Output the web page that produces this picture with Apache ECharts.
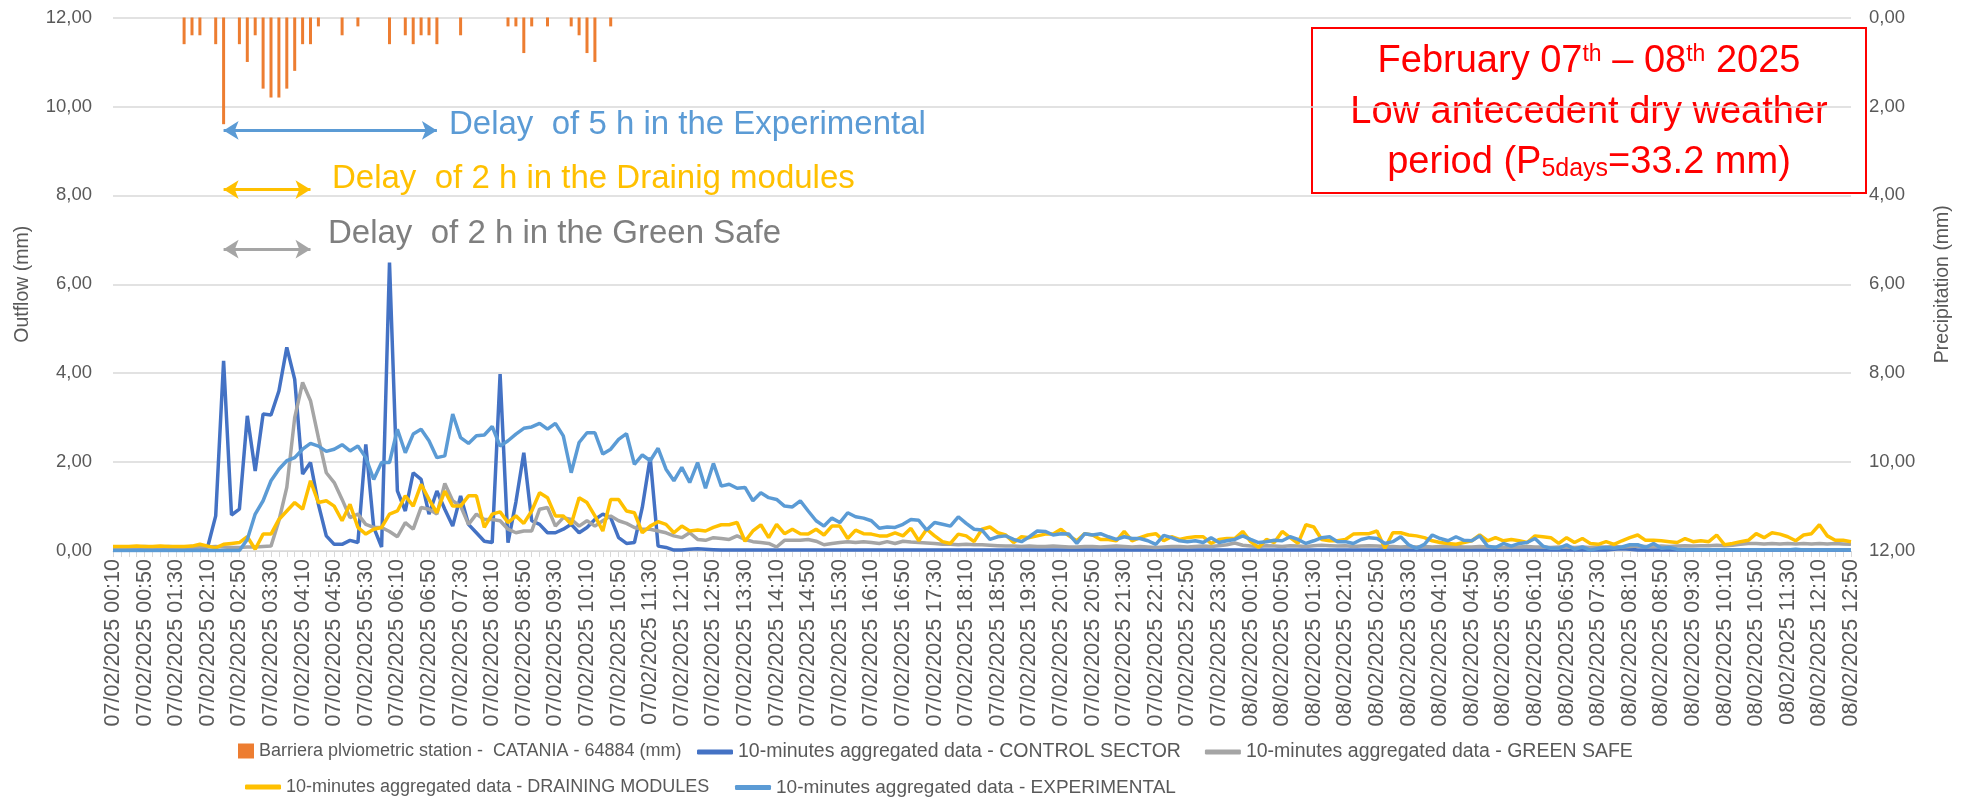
<!DOCTYPE html>
<html>
<head>
<meta charset="utf-8">
<script src="https://cdn.jsdelivr.net/npm/echarts@6/dist/echarts.min.js"></script>
<style>
html,body{margin:0;padding:0;background:#fff}
#main{width:1965px;height:797px}
</style>
</head>
<body>
<div id="main"></div>
<script>
// 10-minute steps from 07/02/2025 00:10 to 08/02/2025 12:50
var categories = [];
for (var t = 10; t <= 2210; t += 10) {
    var day = 7 + Math.floor(t / 1440), m = t % 1440;
    var hh = ('0' + Math.floor(m / 60)).slice(-2), mm = ('0' + (m % 60)).slice(-2);
    categories.push('0' + day + '/02/2025 ' + hh + ':' + mm);
}

// rain gauge, 07/02 only (mm)
var rainTimes = ['01:40','01:50','02:00','02:20','02:30','02:50','03:00','03:10','03:20','03:30',
                 '03:40','03:50','04:00','04:10','04:20','04:30','05:00','05:20','06:00','06:20',
                 '06:30','06:40','06:50','07:00','07:30','08:30','08:40','08:50','09:00','09:20',
                 '09:50','10:00','10:10','10:20','10:40'];
var rainMm = [0.6,0.4,0.4,0.6,2.4,0.6,1.0,0.4,1.6,1.8,
              1.8,1.6,1.2,0.6,0.6,0.2,0.4,0.2,0.6,0.4,
              0.6,0.4,0.4,0.6,0.4,0.2,0.2,0.8,0.2,0.2,
              0.2,0.4,0.8,1.0,0.2];

var controlSector = [
0.02,0.02,0.02,0.02,0.02,0.02,0.02,0.02,0.02,0.02,
0.02,0.02,0.10,0.79,4.28,0.81,0.94,3.04,1.80,3.08,
3.06,3.60,4.58,3.86,1.73,1.99,1.05,0.34,0.15,0.15,
0.24,0.19,2.40,0.53,0.09,6.49,1.35,0.90,1.76,1.61,
0.83,1.35,0.94,0.56,1.24,0.60,0.41,0.22,0.19,3.98,
0.19,1.10,2.21,0.68,0.60,0.41,0.41,0.49,0.60,0.41,
0.53,0.71,0.83,0.75,0.30,0.17,0.19,0.98,2.10,0.11,
0.08,0.02,0.02,0.04,0.05,0.04,0.03,0.02,0.02,0.02,
0.02,0.02,0.02,0.02,0.02,0.02,0.02,0.02,0.02,0.02,
0.02,0.02,0.02,0.02,0.02,0.02,0.02,0.02,0.02,0.02,
0.02,0.02,0.02,0.02,0.02,0.02,0.02,0.02,0.02,0.02,
0.02,0.02,0.02,0.02,0.02,0.02,0.02,0.02,0.02,0.02,
0.02,0.02,0.02,0.02,0.02,0.02,0.02,0.02,0.02,0.02,
0.02,0.02,0.02,0.02,0.02,0.02,0.02,0.02,0.02,0.02,
0.02,0.02,0.02,0.02,0.02,0.02,0.02,0.02,0.02,0.02,
0.02,0.02,0.02,0.02,0.02,0.02,0.02,0.02,0.02,0.02,
0.02,0.02,0.02,0.02,0.02,0.02,0.02,0.02,0.02,0.02,
0.02,0.02,0.02,0.02,0.02,0.02,0.02,0.02,0.02,0.02,
0.02,0.02,0.02,0.02,0.02,0.02,0.02,0.02,0.02,0.02,
0.04,0.05,0.04,0.02,0.02,0.02,0.02,0.02,0.02,0.02,
0.02,0.02,0.02,0.02,0.02,0.02,0.02,0.02,0.02,0.02,
0.02,0.02,0.02,0.02,0.02,0.02,0.02,0.02,0.02,0.02,
0.02];

var greenSafe = [
0.08,0.08,0.09,0.09,0.10,0.09,0.09,0.10,0.09,0.09,
0.10,0.09,0.09,0.10,0.09,0.08,0.08,0.09,0.09,0.10,
0.11,0.68,1.43,3.00,3.79,3.38,2.55,1.76,1.54,1.16,
0.75,0.83,0.60,0.53,0.53,0.44,0.32,0.64,0.49,0.98,
0.94,0.83,1.52,1.13,1.01,0.60,0.83,0.71,0.71,0.68,
0.49,0.41,0.45,0.45,0.94,0.98,0.56,0.75,0.71,0.56,
0.68,0.56,0.68,0.79,0.68,0.62,0.53,0.49,0.49,0.45,
0.41,0.34,0.30,0.41,0.26,0.24,0.30,0.28,0.26,0.34,
0.26,0.21,0.19,0.17,0.09,0.24,0.24,0.24,0.26,0.22,
0.14,0.17,0.19,0.21,0.19,0.21,0.19,0.17,0.21,0.17,
0.22,0.20,0.19,0.18,0.17,0.15,0.15,0.14,0.15,0.14,
0.14,0.13,0.12,0.11,0.11,0.10,0.11,0.10,0.10,0.11,
0.10,0.09,0.09,0.10,0.10,0.09,0.10,0.11,0.10,0.09,
0.10,0.09,0.08,0.09,0.10,0.10,0.09,0.10,0.11,0.10,
0.12,0.14,0.18,0.13,0.11,0.10,0.12,0.11,0.10,0.12,
0.11,0.10,0.12,0.13,0.12,0.11,0.12,0.10,0.11,0.12,
0.11,0.10,0.10,0.09,0.10,0.09,0.10,0.09,0.10,0.11,
0.10,0.09,0.09,0.10,0.09,0.09,0.08,0.09,0.09,0.10,
0.09,0.09,0.08,0.09,0.09,0.08,0.09,0.08,0.09,0.09,
0.10,0.09,0.10,0.11,0.10,0.10,0.11,0.10,0.11,0.12,
0.11,0.12,0.12,0.13,0.12,0.13,0.15,0.17,0.17,0.16,
0.17,0.16,0.17,0.16,0.17,0.16,0.17,0.16,0.17,0.16,
0.15];

var drainingModules = [
0.10,0.10,0.10,0.11,0.10,0.10,0.11,0.10,0.10,0.10,
0.11,0.15,0.11,0.07,0.15,0.17,0.19,0.32,0.04,0.38,
0.38,0.71,0.90,1.09,0.94,1.58,1.09,1.13,1.01,0.68,
1.05,0.53,0.38,0.49,0.53,0.83,0.90,1.24,1.01,1.50,
1.16,0.86,1.35,1.01,1.01,1.24,1.24,0.53,0.83,0.88,
0.64,0.79,0.62,0.90,1.31,1.20,0.79,0.79,0.60,1.20,
1.09,0.79,0.45,1.16,1.16,0.90,0.86,0.41,0.56,0.66,
0.60,0.41,0.56,0.45,0.47,0.45,0.53,0.59,0.59,0.64,
0.22,0.45,0.59,0.30,0.60,0.39,0.49,0.39,0.38,0.49,
0.36,0.56,0.56,0.28,0.47,0.39,0.38,0.34,0.34,0.41,
0.34,0.51,0.23,0.49,0.34,0.21,0.17,0.38,0.34,0.21,
0.49,0.54,0.41,0.36,0.19,0.32,0.30,0.34,0.38,0.38,
0.49,0.34,0.23,0.39,0.36,0.26,0.26,0.23,0.44,0.23,
0.30,0.36,0.39,0.23,0.32,0.26,0.30,0.32,0.32,0.17,
0.26,0.28,0.28,0.44,0.21,0.08,0.26,0.19,0.44,0.30,
0.17,0.59,0.54,0.26,0.23,0.23,0.26,0.38,0.39,0.39,
0.45,0.06,0.41,0.41,0.36,0.34,0.30,0.23,0.19,0.17,
0.15,0.19,0.23,0.36,0.23,0.30,0.23,0.26,0.23,0.19,
0.34,0.32,0.30,0.17,0.30,0.19,0.28,0.17,0.15,0.21,
0.15,0.23,0.30,0.36,0.24,0.24,0.23,0.21,0.19,0.28,
0.21,0.23,0.21,0.36,0.14,0.17,0.21,0.24,0.39,0.30,
0.41,0.38,0.32,0.23,0.36,0.39,0.59,0.34,0.24,0.24,
0.21];

var experimental = [
0.01,0.01,0.01,0.01,0.01,0.01,0.01,0.01,0.01,0.01,
0.01,0.01,0.01,0.01,0.01,0.01,0.01,0.26,0.83,1.13,
1.58,1.84,2.03,2.10,2.29,2.42,2.36,2.24,2.29,2.39,
2.25,2.36,2.10,1.61,1.99,1.99,2.74,2.21,2.63,2.74,
2.48,2.10,2.14,3.08,2.55,2.42,2.59,2.61,2.80,2.36,
2.48,2.63,2.76,2.79,2.87,2.74,2.87,2.59,1.76,2.44,
2.66,2.66,2.18,2.29,2.51,2.64,1.95,2.16,2.03,2.31,
1.84,1.58,1.88,1.54,1.99,1.41,1.97,1.46,1.50,1.41,
1.43,1.13,1.31,1.20,1.16,1.01,0.99,1.13,0.90,0.68,
0.56,0.74,0.64,0.86,0.77,0.74,0.68,0.51,0.54,0.53,
0.60,0.71,0.69,0.47,0.64,0.60,0.56,0.77,0.62,0.49,
0.47,0.26,0.32,0.34,0.26,0.21,0.32,0.45,0.44,0.36,
0.39,0.38,0.17,0.39,0.36,0.39,0.32,0.26,0.32,0.28,
0.28,0.23,0.15,0.35,0.30,0.23,0.21,0.23,0.19,0.30,
0.19,0.23,0.26,0.34,0.26,0.19,0.21,0.24,0.23,0.32,
0.26,0.17,0.23,0.30,0.32,0.21,0.21,0.17,0.26,0.30,
0.28,0.17,0.21,0.32,0.14,0.06,0.15,0.36,0.28,0.23,
0.32,0.24,0.23,0.34,0.11,0.08,0.17,0.11,0.17,0.19,
0.28,0.11,0.06,0.06,0.14,0.04,0.09,0.02,0.06,0.08,
0.06,0.09,0.14,0.14,0.08,0.17,0.06,0.08,0.04,0.02,
0.02,0.02,0.02,0.02,0.02,0.02,0.02,0.02,0.02,0.02,
0.02,0.02,0.02,0.04,0.02,0.02,0.02,0.02,0.02,0.02,
0.02];

var yTicks = [0, 2, 4, 6, 8, 10, 12];

var FONT = "'Liberation Sans', Arial, sans-serif";
var GREY_TXT = '#595959';

var rainData = rainTimes.map(function (t, i) {
    return ['07/02/2025 ' + t, rainMm[i]];
});

function comma(v) { return v.toFixed(2).replace('.', ','); }

function delayArrow(color, yVal, fromIdx, toIdx) {
    return {
        silent: true,
        animation: false,
        symbol: ['arrow', 'arrow'],
        symbolSize: [14, 15],
        lineStyle: {color: color, width: 3, type: 'solid'},
        label: {show: false},
        data: [[{coord: [fromIdx, yVal]}, {coord: [toIdx, yVal]}]]
    };
}

var names = {
    rain: 'Barriera plviometric station -  CATANIA - 64884 (mm)',
    ctrl: '10-minutes aggregated data - CONTROL SECTOR',
    green: '10-minutes aggregated data - GREEN SAFE',
    drain: '10-minutes aggregated data - DRAINING MODULES',
    exp: '10-minutes aggregated data - EXPERIMENTAL'
};

function legendText(size) { return {color: GREY_TXT, fontSize: size, fontFamily: FONT}; }
function lineLegend(size) { return {icon: 'roundRect', itemWidth: 36, itemHeight: 5, textStyle: legendText(size)}; }

var chart = echarts.init(document.getElementById('main'));
var option = {
    animation: false,
    backgroundColor: '#fff',
    grid: {left: 113, right: 114, top: 17.5, bottom: 246},
    legend: [
        {data: [names.rain], left: 233, top: 737, itemWidth: 16, itemHeight: 15, icon: 'rect', textStyle: legendText(18)},
        Object.assign({data: [names.ctrl, names.green], left: 692, top: 737, itemGap: 24}, lineLegend(19.5)),
        Object.assign({data: [names.drain], left: 240, top: 773}, lineLegend(18)),
        Object.assign({data: [names.exp], left: 730, top: 773}, lineLegend(19))
    ],
    xAxis: {
        type: 'category',
        data: categories,
        boundaryGap: false,
        axisLine: {lineStyle: {color: '#D9D9D9', width: 1}},
        axisTick: {show: true, interval: 0, length: 6, lineStyle: {color: '#D9D9D9'}},
        axisLabel: {interval: 3, rotate: 90, margin: 8, color: GREY_TXT, fontSize: 21.5, fontFamily: FONT}
    },
    yAxis: [
        {
            type: 'value', min: yTicks[0], max: yTicks[yTicks.length - 1], interval: 2,
            name: 'Outflow (mm)', nameLocation: 'middle', nameRotate: 90, nameGap: 80,
            nameTextStyle: {color: GREY_TXT, fontSize: 19.5, fontFamily: FONT},
            axisLine: {show: false}, axisTick: {show: false},
            axisLabel: {formatter: comma, color: GREY_TXT, fontSize: 18.5, fontFamily: FONT, margin: 21},
            splitLine: {lineStyle: {color: '#D9D9D9', width: 1.5}}
        },
        {
            type: 'value', min: yTicks[0], max: yTicks[yTicks.length - 1], interval: 2, inverse: true,
            position: 'right',
            name: 'Precipitation (mm)', nameLocation: 'middle', nameRotate: 90, nameGap: 82,
            nameTextStyle: {color: GREY_TXT, fontSize: 19.5, fontFamily: FONT},
            axisLine: {show: false}, axisTick: {show: false},
            axisLabel: {formatter: comma, color: GREY_TXT, fontSize: 18.5, fontFamily: FONT, margin: 18},
            splitLine: {show: false}
        }
    ],
    series: [
        {
            name: names.rain, type: 'bar', yAxisIndex: 1, barWidth: 3,
            itemStyle: {color: '#ED7D31'}, data: rainData
        },
        {
            name: names.ctrl, type: 'line', symbol: 'none', data: controlSector,
            lineStyle: {color: '#4472C4', width: 3.5}, itemStyle: {color: '#4472C4'}
        },
        {
            name: names.green, type: 'line', symbol: 'none', data: greenSafe,
            lineStyle: {color: '#A5A5A5', width: 3.5}, itemStyle: {color: '#A5A5A5'},
            markLine: delayArrow('#A5A5A5', 6.79, 14, 25)
        },
        {
            name: names.drain, type: 'line', symbol: 'none', data: drainingModules,
            lineStyle: {color: '#FFC000', width: 3.5}, itemStyle: {color: '#FFC000'},
            markLine: delayArrow('#FFC000', 8.13, 14, 25)
        },
        {
            name: names.exp, type: 'line', symbol: 'none', data: experimental,
            lineStyle: {color: '#5B9BD5', width: 3.5}, itemStyle: {color: '#5B9BD5'},
            markLine: delayArrow('#5B9BD5', 9.46, 14, 41)
        }
    ],
    graphic: [
        {type: 'text', left: 449, top: 108, style: {text: 'Delay  of 5 h in the Experimental', fill: '#5B9BD5', font: '33px ' + FONT}},
        {type: 'text', left: 332, top: 162, style: {text: 'Delay  of 2 h in the Drainig modules', fill: '#FFC000', font: '33px ' + FONT}},
        {type: 'text', left: 328, top: 217, style: {text: 'Delay  of 2 h in the Green Safe', fill: '#7F7F7F', font: '33px ' + FONT}},
        {type: 'rect', shape: {x: 1312, y: 28, width: 554, height: 165}, style: {fill: 'none', stroke: '#FF0000', lineWidth: 2}},
        {type: 'text', x: 1589, y: 62, style: {
            text: 'February 07{sup|th} \u2013 08{sup|th} 2025', fill: '#FF0000', font: '38px ' + FONT,
            align: 'center', verticalAlign: 'middle',
            rich: {sup: {fontSize: 23, fontFamily: FONT, fill: '#FF0000', verticalAlign: 'top'}}
        }},
        {type: 'text', x: 1589, y: 113, style: {
            text: 'Low antecedent dry weather', fill: '#FF0000', font: '38px ' + FONT,
            align: 'center', verticalAlign: 'middle'
        }},
        {type: 'text', x: 1589, y: 163, style: {
            text: 'period (P{sub|5days}=33.2 mm)', fill: '#FF0000', font: '38px ' + FONT,
            align: 'center', verticalAlign: 'middle',
            rich: {sub: {fontSize: 25, fontFamily: FONT, fill: '#FF0000', verticalAlign: 'bottom'}}
        }}
    ]
};
chart.setOption(option);
</script>
</body>
</html>
